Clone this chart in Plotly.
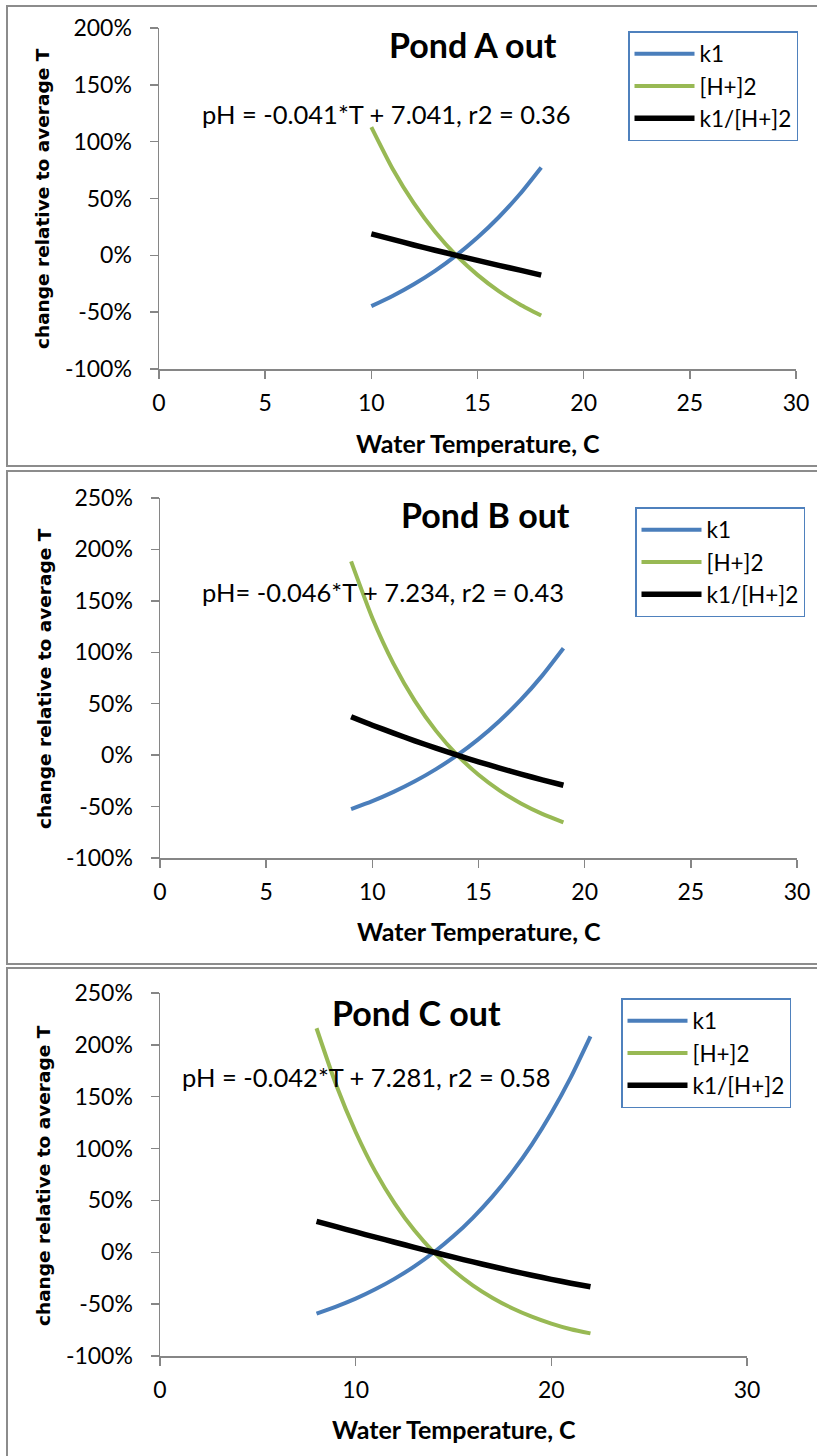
import plotly.graph_objects as go

W, H = 817, 1456

# ---------------- data (percent change relative to value at average T) ----------------
T_A = [10, 11, 12, 13, 14, 15, 16, 17, 18]
k1_A = [-44.7, -35.7, -25.4, -13.6, 0, 15.6, 33.5, 53.9, 77.3]
h2_A = [112.8, 76.2, 45.9, 20.8, 0, -17.2, -31.5, -43.2, -53.0]
ratio_A = [18.9, 14.0, 9.1, 4.5, 0, -4.4, -8.8, -13.0, -17.4]

T_B = [9, 10, 11, 12, 13, 14, 15, 16, 17, 18, 19]
k1_B = [-52.4, -44.7, -35.7, -25.4, -13.6, 0, 15.6, 33.5, 53.9, 77.3, 103.9]
h2_B = [188.4, 133.4, 88.8, 52.8, 23.6, 0, -19.1, -34.5, -47.0, -57.1, -65.3]
ratio_B = [37.3, 29.1, 21.4, 13.9, 6.8, 0, -6.5, -12.6, -18.5, -24.0, -29.3]

T_C = [8, 9, 10, 11, 12, 13, 14, 15, 16, 17, 18, 19, 20, 21, 22]
k1_C = [-59.1, -52.4, -44.7, -35.7, -25.4, -13.6, 0, 15.6, 33.5, 53.9, 77.3, 103.9, 134.3, 168.9, 208.2]
h2_C = [216.0, 161.5, 116.0, 78.0, 47.0, 21.2, 0, -17.6, -32.1, -44.0, -53.9, -62.0, -68.7, -74.2, -78.2]
ratio_C = [29.8, 24.7, 19.6, 14.6, 9.7, 4.8, 0, -4.7, -9.3, -13.7, -18.0, -22.1, -26.1, -29.8, -33.3]

series_names = ["k1", "[H+]2", "k1/[H+]2"]
titles = ["Pond A out", "Pond B out", "Pond C out"]
equations = ["pH = -0.041*T + 7.041, r2 = 0.36",
             "pH= -0.046*T + 7.234, r2 = 0.43",
             "pH = -0.042*T + 7.281, r2 = 0.58"]
x_title = "Water Temperature, C"
y_title = "change relative to average T"

# tick values / labels
y_tickvals_A = [-100, -50, 0, 50, 100, 150, 200]
y_ticktext_A = ["-100%", "-50%", "0%", "50%", "100%", "150%", "200%"]
y_tickvals_BC = [-100, -50, 0, 50, 100, 150, 200, 250]
y_ticktext_BC = ["-100%", "-50%", "0%", "50%", "100%", "150%", "200%", "250%"]
x_tickvals_AB = [0, 5, 10, 15, 20, 25, 30]
x_tickvals_C = [0, 10, 20, 30]

y_ranges = [[-100, 200], [-100, 250], [-100, 250]]
x_range = [0, 30]

# ---------------- styling ----------------
BLUE = "#4A7EBB"
GREEN = "#98B954"
BLACK = "#000000"
AXIS = "#868686"
BORDER = "#8C8C8C"
FONT = "Lato"


def px(x):
    return x / W


def py(y):
    return 1 - y / H


panels = [
    dict(T=T_A, k1=k1_A, h2=h2_A, r=ratio_A,
         yv=y_tickvals_A, yt_=y_ticktext_A, xv=x_tickvals_AB,
         plot=(159, 796, 28, 369), border=(6, 466), title=(473, 44),
         eq=(386, 114), legend=(628, 31), xt=(478, 443), yt=(43, 199)),
    dict(T=T_B, k1=k1_B, h2=h2_B, r=ratio_B,
         yv=y_tickvals_BC, yt_=y_ticktext_BC, xv=x_tickvals_AB,
         plot=(160, 797, 498, 858), border=(471, 964), title=(485, 514),
         eq=(383, 592), legend=(635, 507), xt=(479, 931), yt=(44, 679)),
    dict(T=T_C, k1=k1_C, h2=h2_C, r=ratio_C,
         yv=y_tickvals_BC, yt_=y_ticktext_BC, xv=x_tickvals_C,
         plot=(160, 747, 993, 1356), border=(968, 1475), title=(417, 1012),
         eq=(366, 1077), legend=(621, 998), xt=(454, 1429), yt=(43, 1176)),
]

fig = go.Figure()
layout = dict(
    template="none",
    width=W, height=H,
    margin=dict(l=0, r=0, t=0, b=0, pad=0, autoexpand=False),
    paper_bgcolor="white", plot_bgcolor="white",
    font=dict(family=FONT, color="black"),
    showlegend=True,
    annotations=[], shapes=[],
)

for i, p in enumerate(panels):
    n = "" if i == 0 else str(i + 1)
    xa, ya = "x" + n, "y" + n
    leg = "legend" + n
    for name, vals, color, lw in zip(series_names, [p["k1"], p["h2"], p["r"]],
                                     [BLUE, GREEN, BLACK], [4, 4, 5.5]):
        fig.add_trace(go.Scatter(
            x=p["T"], y=vals, name=name, mode="lines",
            line=dict(color=color, width=lw, shape="spline", smoothing=0.6),
            xaxis=xa, yaxis=ya, legend=leg, hoverinfo="skip"))

    x0, x1, y0, y1 = p["plot"]
    layout["xaxis" + n] = dict(
        domain=[px(x0), px(x1)], anchor=ya, range=x_range, automargin=False,
        tickmode="array", tickvals=p["xv"],
        showline=True, linecolor=AXIS, linewidth=1.5,
        ticks="outside", ticklen=8, tickwidth=1.5, tickcolor=AXIS,
        showgrid=False, zeroline=False, ticklabelstandoff=5,
        tickfont=dict(family=FONT, size=23, color="black"), fixedrange=True)
    layout["yaxis" + n] = dict(
        domain=[py(y1), py(y0)], anchor=xa, range=y_ranges[i], automargin=False,
        tickmode="array", tickvals=p["yv"], ticktext=p["yt_"],
        showline=True, linecolor=AXIS, linewidth=1.5,
        ticks="outside", ticklen=8, tickwidth=1.5, tickcolor=AXIS,
        showgrid=False, zeroline=False, ticklabelstandoff=13,
        tickfont=dict(family=FONT, size=23, color="black"), fixedrange=True)

    lx, ly = p["legend"]
    layout[leg] = dict(
        x=px(lx), y=py(ly), xanchor="left", yanchor="top",
        bgcolor="white", bordercolor="#4F81BD", borderwidth=1.5,
        font=dict(family=FONT, size=22.5, color="black"),
        itemwidth=60, tracegroupgap=0)

    # panel frame
    b0, b1 = p["border"]
    layout["shapes"].append(dict(
        type="rect", xref="paper", yref="paper",
        x0=px(7), x1=px(W + 20), y0=py(b1), y1=py(b0),
        line=dict(color=BORDER, width=2), fillcolor="rgba(0,0,0,0)", layer="below"))

    tx, ty = p["title"]
    layout["annotations"].append(dict(
        text=titles[i], xref="paper", yref="paper", x=px(tx), y=py(ty),
        xanchor="center", yanchor="middle", showarrow=False,
        font=dict(family=FONT, size=34, weight="bold", color="black")))
    ex, ey = p["eq"]
    layout["annotations"].append(dict(
        text=equations[i], xref="paper", yref="paper", x=px(ex), y=py(ey),
        xanchor="center", yanchor="middle", showarrow=False,
        font=dict(family=FONT, size=25.5, color="black")))
    xtx, xty = p["xt"]
    layout["annotations"].append(dict(
        text=x_title, xref="paper", yref="paper", x=px(xtx), y=py(xty),
        xanchor="center", yanchor="middle", showarrow=False,
        font=dict(family=FONT, size=25, weight="bold", color="black")))
    ytx, yty = p["yt"]
    layout["annotations"].append(dict(
        text=y_title, xref="paper", yref="paper", x=px(ytx), y=py(yty),
        xanchor="center", yanchor="middle", showarrow=False, textangle=-90,
        font=dict(family="DejaVu Sans", size=18.5, weight="bold", color="black")))

fig.update_layout(**layout)
fig.write_html(
    "out.html",
    config={"displayModeBar": False, "staticPlot": True},
    post_script="document.documentElement.style.margin='0';"
                "document.body.style.margin='0';document.body.style.padding='0';"
                "document.body.style.overflow='hidden';")
